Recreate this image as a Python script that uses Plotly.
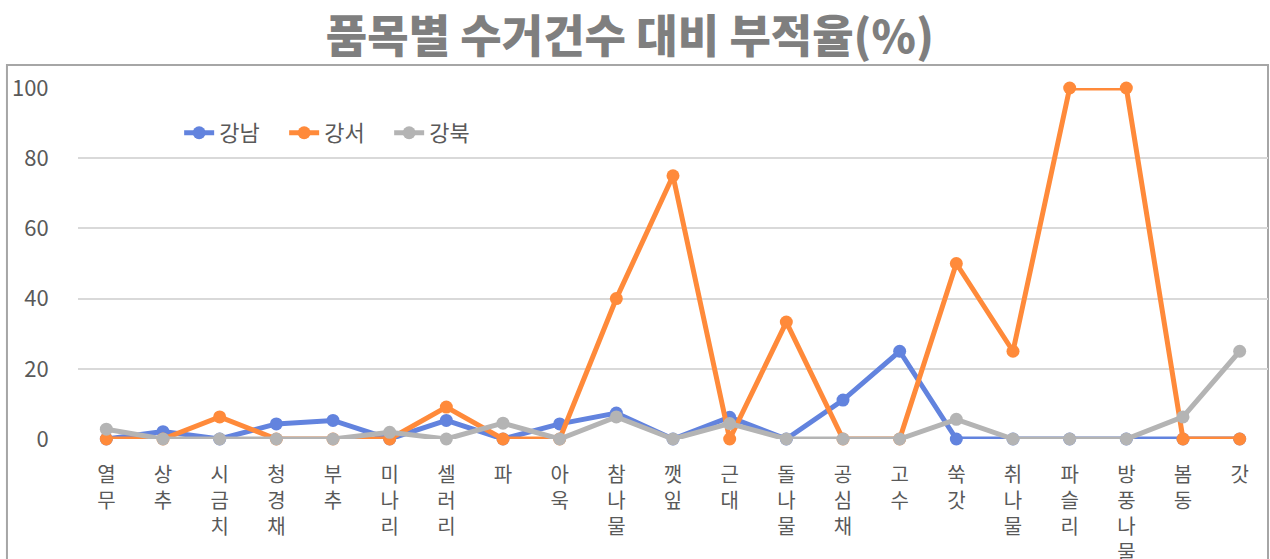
import plotly.graph_objects as go

categories = ['열무', '상추', '시금치', '청경채', '부추', '미나리', '셀러리', '파', '아욱', '참나물',
              '깻잎', '근대', '돌나물', '공심채', '고수', '쑥갓', '취나물', '파슬리', '방풍나물', '봄동', '갓']

gangnam = [0, 2.1, 0, 4.3, 5.3, 0, 5.3, 0, 4.3, 7.4, 0, 6.2, 0, 11.1, 25, 0, 0, 0, 0, 0, 0]
gangseo = [0, 0, 6.3, 0, 0, 0, 9.1, 0, 0, 40, 75, 0, 33.3, 0, 0, 50, 25, 100, 100, 0, 0]
gangbuk = [2.8, 0, 0, 0, 0, 1.9, 0, 4.5, 0, 6.3, 0, 4.4, 0, 0, 0, 5.6, 0, 0, 0, 6.3, 25]

y_ticks = [0, 20, 40, 60, 80, 100]

# vertical korean labels: one syllable per line
tick_text = ['<br>'.join(list(c)) for c in categories]

font_kr = 'Noto Sans CJK KR'

fig = go.Figure()

series = [('강남', gangnam, '#6283DE'), ('강서', gangseo, '#FF8A3A'), ('강북', gangbuk, '#B4B4B4')]
for name, vals, col in series:
    fig.add_trace(go.Scatter(
        x=categories, y=vals, name=name,
        mode='lines+markers',
        line=dict(color=col, width=5),
        marker=dict(color=col, size=13),
        cliponaxis=False
    ))

fig.update_layout(
    width=1270, height=559,
    margin=dict(l=78, r=2, t=88, b=120),
    paper_bgcolor='white', plot_bgcolor='white',
    font=dict(family=font_kr, color='#595959', size=20),
    title=dict(text='품목별 수거건수 대비 부적율(%)', x=0.496, xanchor='center',
               y=0.934, yanchor='middle',
               font=dict(size=45, color='#7F7F7F', family=font_kr, weight=900)),
    legend=dict(orientation='h', x=0.085, y=0.872, xanchor='left', yanchor='middle',
                font=dict(size=22, color='#595959'), bgcolor='rgba(0,0,0,0)',
                itemwidth=30, entrywidth=60, entrywidthmode='pixels'),
    showlegend=True,
)

fig.update_xaxes(
    tickmode='array', tickvals=categories, ticktext=tick_text,
    range=[-0.5, len(categories) - 0.5],
    tickangle=0, showgrid=False, zeroline=False, showline=False,
    ticks='outside', ticklen=18, tickcolor='rgba(0,0,0,0)', automargin=False,
    tickfont=dict(size=20, color='#595959', family=font_kr)
)
fig.update_yaxes(
    range=[0, 100], tickvals=y_ticks,
    showgrid=True, gridcolor='#D9D9D9', gridwidth=2,
    zeroline=False, showline=False, automargin=False,
    ticks='outside', ticklen=24, tickcolor='rgba(0,0,0,0)',
    tickfont=dict(size=22, color='#595959', family=font_kr)
)

# chart frame border
fig.add_shape(type='rect', xref='paper', yref='paper',
              x0=-0.0597, x1=1.0, y0=-0.5, y1=1.0655,
              line=dict(color='#A6A6A6', width=2), layer='below')

fig.write_html('out.html', config={'displayModeBar': False},
               post_script="document.body.style.margin='0';")
